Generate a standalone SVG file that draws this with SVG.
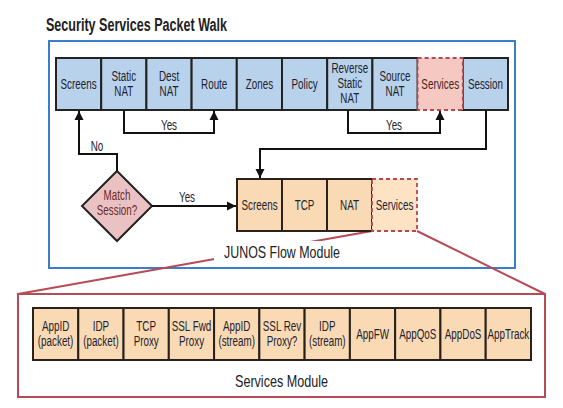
<svg xmlns="http://www.w3.org/2000/svg" width="563" height="408" viewBox="0 0 563 408">
<defs>
<style>
.t{font-family:"Liberation Sans",Arial,sans-serif;font-size:14.5px;text-anchor:middle;fill:#1e2330}
.blue{fill:#b9d2ec;stroke:#222;stroke-width:2}
.red{fill:#f5c8c2}
.orange{fill:#f9dab4;stroke:#2a211c;stroke-width:2}
.dash{fill:none;stroke:#b5474d;stroke-width:1.8;stroke-dasharray:4 3}
.conn{fill:none;stroke:#111;stroke-width:2}
.zoom{fill:none;stroke:#b84a55;stroke-width:2}
.lbl{font-family:"Liberation Sans",Arial,sans-serif;fill:#222}
</style>
<marker id="ah" viewBox="0 0 10 10" refX="10" refY="5" markerWidth="9" markerHeight="10" markerUnits="userSpaceOnUse" orient="auto">
<path d="M0,0 L10,5 L0,10 z" fill="#111"/>
</marker>
</defs>
<rect width="563" height="408" fill="#fff"/>
<text class="lbl" x="46" y="31" font-size="18" font-weight="bold" textLength="181" lengthAdjust="spacingAndGlyphs">Security Services Packet Walk</text>

<g id="flow-frame">
<rect x="49" y="41" width="466" height="227" fill="#fff" stroke="#3a7dc9" stroke-width="2"/>
</g>

<g id="zoom-lines">
<path class="zoom" d="M372,231 L18,294"/>
<path class="zoom" d="M417,231 L545,294"/>
<rect class="zoom" x="18" y="294" width="527" height="103" fill="#fff"/>
</g>

<g id="junos-label">
<rect x="214" y="241" width="134" height="24" fill="#fff"/>
<text class="lbl" x="224" y="258" font-size="17" textLength="116" lengthAdjust="spacingAndGlyphs">JUNOS Flow Module</text>
</g>

<g id="top-row">
<g id="n-screens"><rect class="blue" x="56" y="58" width="45.2" height="52"/><text class="t" transform="translate(78.6,89) scale(.68,1)">Screens</text></g>
<g id="n-static-nat"><rect class="blue" x="101.2" y="58" width="45.2" height="52"/><text class="t" transform="translate(123.8,0) scale(.68,1)"><tspan x="0" y="81.5">Static</tspan><tspan x="0" y="96">NAT</tspan></text></g>
<g id="n-dest-nat"><rect class="blue" x="146.4" y="58" width="45.2" height="52"/><text class="t" transform="translate(169,0) scale(.68,1)"><tspan x="0" y="81.5">Dest</tspan><tspan x="0" y="96">NAT</tspan></text></g>
<g id="n-route"><rect class="blue" x="191.6" y="58" width="45.2" height="52"/><text class="t" transform="translate(214.2,89) scale(.68,1)">Route</text></g>
<g id="n-zones"><rect class="blue" x="236.8" y="58" width="45.2" height="52"/><text class="t" transform="translate(259.4,89) scale(.68,1)">Zones</text></g>
<g id="n-policy"><rect class="blue" x="282" y="58" width="45.2" height="52"/><text class="t" transform="translate(304.6,89) scale(.68,1)">Policy</text></g>
<g id="n-rev-static-nat"><rect class="blue" x="327.2" y="58" width="45.2" height="52"/><text class="t" transform="translate(349.8,0) scale(.68,1)"><tspan x="0" y="73">Reverse</tspan><tspan x="0" y="88">Static</tspan><tspan x="0" y="103">NAT</tspan></text></g>
<g id="n-source-nat"><rect class="blue" x="372.4" y="58" width="45.2" height="52"/><text class="t" transform="translate(395,0) scale(.68,1)"><tspan x="0" y="81.5">Source</tspan><tspan x="0" y="96">NAT</tspan></text></g>
<g id="n-session"><rect class="blue" x="462.8" y="58" width="45.2" height="52"/><text class="t" transform="translate(485.4,89) scale(.68,1)">Session</text></g>
<g id="n-services-top"><rect class="red" x="417.6" y="58" width="45.2" height="52"/><rect class="dash" x="417.6" y="58" width="45.2" height="52"/><text class="t" style="fill:#4a1e1e" transform="translate(440.2,89) scale(.68,1)">Services</text></g>
</g>

<g id="n-match-session">
<path d="M117,171 L152,206 L117,241 L82,206 z" fill="#ebc2c4" stroke="#222" stroke-width="2"/>
<text class="t" style="fill:#6a2a2c" transform="translate(117,0) scale(.68,1)"><tspan x="0" y="200.5">Match</tspan><tspan x="0" y="215.5">Session?</tspan></text>
</g>

<g id="flow-row">
<g id="n-f-screens"><rect class="orange" x="237" y="179" width="45" height="52"/><text class="t" transform="translate(259.5,210) scale(.68,1)">Screens</text></g>
<g id="n-f-tcp"><rect class="orange" x="282" y="179" width="45" height="52"/><text class="t" transform="translate(304.5,210) scale(.68,1)">TCP</text></g>
<g id="n-f-nat"><rect class="orange" x="327" y="179" width="45" height="52"/><text class="t" transform="translate(349.5,210) scale(.68,1)">NAT</text></g>
<g id="n-f-services"><rect x="372" y="179" width="45" height="52" fill="#fde2c4"/><rect class="dash" x="372" y="179" width="45" height="52"/><text class="t" transform="translate(394.5,210) scale(.68,1)">Services</text></g>
</g>

<g id="services-module">
<g id="n-appid-packet"><rect class="orange" x="33" y="308" width="45.27" height="52"/><text class="t" transform="translate(55.6,0) scale(.68,1)"><tspan x="0" y="331.5">AppID</tspan><tspan x="0" y="346">(packet)</tspan></text></g>
<g id="n-idp-packet"><rect class="orange" x="78.27" y="308" width="45.27" height="52"/><text class="t" transform="translate(100.9,0) scale(.68,1)"><tspan x="0" y="331.5">IDP</tspan><tspan x="0" y="346">(packet)</tspan></text></g>
<g id="n-tcp-proxy"><rect class="orange" x="123.54" y="308" width="45.27" height="52"/><text class="t" transform="translate(146.2,0) scale(.68,1)"><tspan x="0" y="331.5">TCP</tspan><tspan x="0" y="346">Proxy</tspan></text></g>
<g id="n-ssl-fwd"><rect class="orange" x="168.81" y="308" width="45.27" height="52"/><text class="t" transform="translate(191.5,0) scale(.68,1)"><tspan x="0" y="331.5">SSL Fwd</tspan><tspan x="0" y="346">Proxy</tspan></text></g>
<g id="n-appid-stream"><rect class="orange" x="214.08" y="308" width="45.27" height="52"/><text class="t" transform="translate(236.7,0) scale(.68,1)"><tspan x="0" y="331.5">AppID</tspan><tspan x="0" y="346">(stream)</tspan></text></g>
<g id="n-ssl-rev"><rect class="orange" x="259.35" y="308" width="45.27" height="52"/><text class="t" transform="translate(282,0) scale(.68,1)"><tspan x="0" y="331.5">SSL Rev</tspan><tspan x="0" y="346">Proxy?</tspan></text></g>
<g id="n-idp-stream"><rect class="orange" x="304.62" y="308" width="45.27" height="52"/><text class="t" transform="translate(327.3,0) scale(.68,1)"><tspan x="0" y="331.5">IDP</tspan><tspan x="0" y="346">(stream)</tspan></text></g>
<g id="n-appfw"><rect class="orange" x="349.89" y="308" width="45.27" height="52"/><text class="t" transform="translate(372.6,339) scale(.68,1)">AppFW</text></g>
<g id="n-appqos"><rect class="orange" x="395.16" y="308" width="45.27" height="52"/><text class="t" transform="translate(417.8,339) scale(.68,1)">AppQoS</text></g>
<g id="n-appdos"><rect class="orange" x="440.43" y="308" width="45.27" height="52"/><text class="t" transform="translate(463.1,339) scale(.68,1)">AppDoS</text></g>
<g id="n-apptrack"><rect class="orange" x="485.7" y="308" width="45.3" height="52"/><text class="t" transform="translate(508.4,339) scale(.68,1)">AppTrack</text></g>
<text class="lbl" x="235" y="387" font-size="17" textLength="93" lengthAdjust="spacingAndGlyphs">Services Module</text>
</g>

<g id="connectors">
<path class="conn" d="M117,171 V154 H79 V111" marker-end="url(#ah)"/>
<path class="conn" d="M124,111 V133 H214 V111" marker-end="url(#ah)"/>
<path class="conn" d="M348,111 V133 H440 V111" marker-end="url(#ah)"/>
<path class="conn" d="M486,111 V149 H260 V178" marker-end="url(#ah)"/>
<path class="conn" d="M152,206 H236" marker-end="url(#ah)"/>
<text class="t" transform="translate(97,151) scale(.68,1)">No</text>
<text class="t" transform="translate(169,130) scale(.68,1)">Yes</text>
<text class="t" transform="translate(394,130) scale(.68,1)">Yes</text>
<text class="t" transform="translate(187,202) scale(.68,1)">Yes</text>
</g>
</svg>
